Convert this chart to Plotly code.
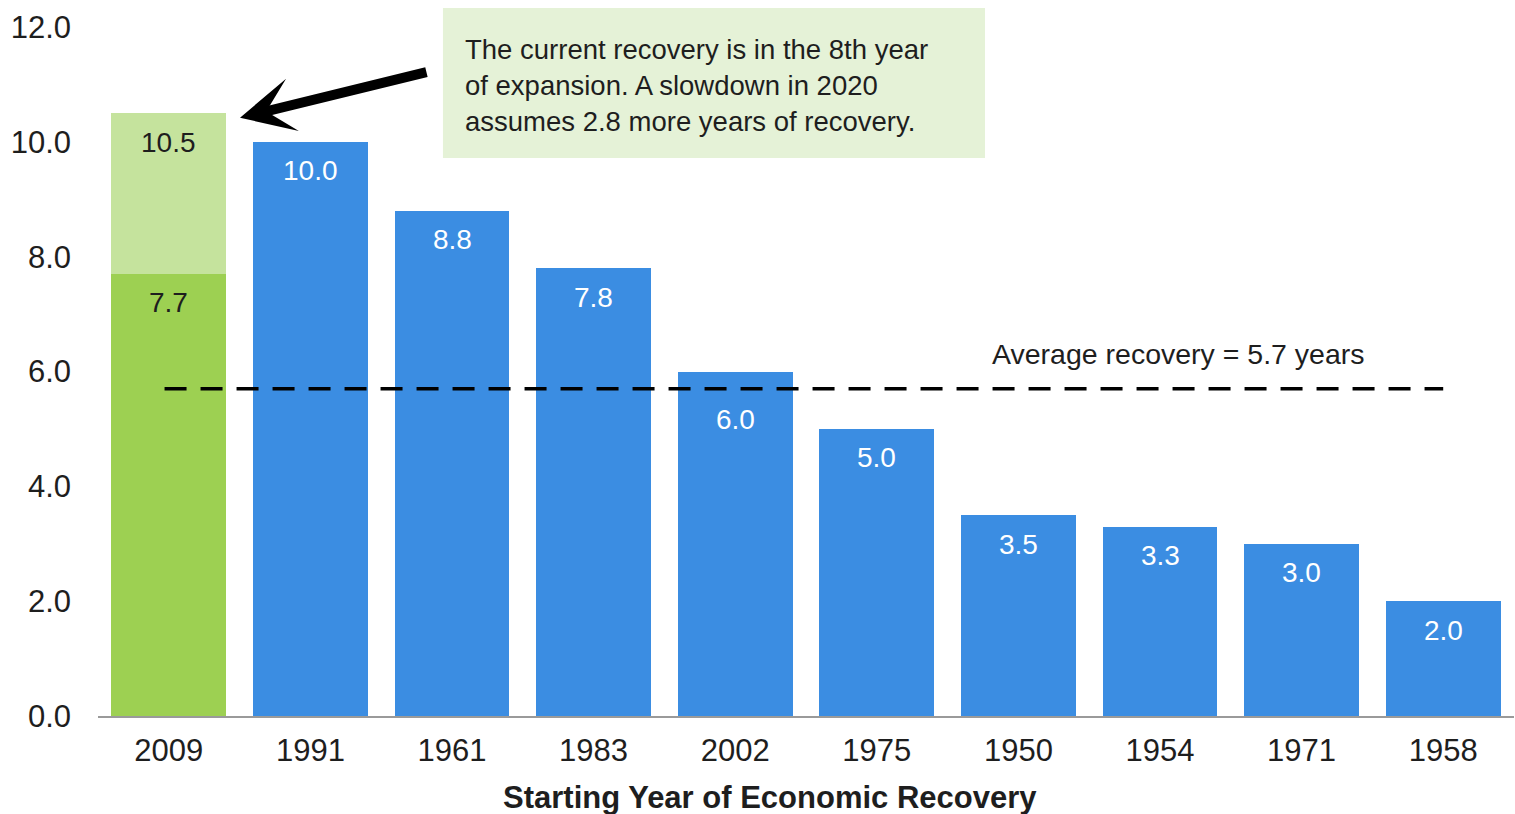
import plotly.graph_objects as go

# Recovery lengths (years) by starting year of the expansion
years = ["2009", "1991", "1961", "1983", "2002", "1975", "1950", "1954", "1971", "1958"]
recovery = [7.7, 10.0, 8.8, 7.8, 6.0, 5.0, 3.5, 3.3, 3.0, 2.0]
# Extra years assumed for the current (2009) expansion if a slowdown hits in 2020
assumed_extra = [2.8, 0, 0, 0, 0, 0, 0, 0, 0, 0]
average_recovery = 5.7
y_ticks = [0, 2, 4, 6, 8, 10, 12]

FONT = "Liberation Sans"
DARK_GREEN = "#9DD052"
LIGHT_GREEN = "#C5E39D"
BLUE = "#3B8DE2"
TEXT = "#1e1e1e"

base_colors = [DARK_GREEN if y == "2009" else BLUE for y in years]

fig = go.Figure()
fig.add_trace(go.Bar(x=years, y=recovery, marker=dict(color=base_colors, line=dict(width=0)),
                     hoverinfo="x+y"))
fig.add_trace(go.Bar(x=years, y=assumed_extra, marker=dict(color=LIGHT_GREEN, line=dict(width=0)),
                     hoverinfo="x+y"))

annotations = []
# value labels just under each bar top (category index used as x position);
# a label that would sit on the average line is pushed below it
for i, (yr, v, extra) in enumerate(zip(years, recovery, assumed_extra)):
    current = yr == "2009"
    shift = -48 if abs(v - average_recovery) < 0.5 else -29
    annotations.append(dict(x=i, y=v, xref="x", yref="y", text=f"{v:.1f}", showarrow=False,
                            yanchor="middle", yshift=shift,
                            font=dict(family=FONT, size=28, color=TEXT if current else "white")))
    if extra > 0:
        total = v + extra
        annotations.append(dict(x=i, y=total, xref="x", yref="y", text=f"{total:.1f}",
                                showarrow=False, yanchor="middle", yshift=-29,
                                font=dict(family=FONT, size=28, color=TEXT)))

# average line label
annotations.append(dict(x=0.63, xref="paper", y=average_recovery, yref="y", yshift=35,
                        text="Average recovery = 5.7 years", showarrow=False,
                        xanchor="left", yanchor="middle",
                        font=dict(family=FONT, size=28.5, color=TEXT)))

# callout text
annotations.append(dict(x=0.2578, xref="paper", y=0.9144, yref="paper",
                        text="The current recovery is in the 8th year<br>"
                             "of expansion. A slowdown in 2020<br>"
                             "assumes 2.8 more years of recovery.",
                        showarrow=False, xanchor="left", yanchor="middle", align="left",
                        font=dict(family=FONT, size=27.5, color=TEXT)))

# arrow pointing at the 2009 bar
annotations.append(dict(x=0.503, y=10.42, xref="x", yref="y",
                        ax=1.83, ay=11.22, axref="x", ayref="y",
                        text="", showarrow=True, arrowhead=3, arrowwidth=10,
                        arrowsize=0.9, arrowcolor="black"))

# x-axis title
annotations.append(dict(x=0.4746, xref="paper", y=-0.118, yref="paper",
                        text="<b>Starting Year of Economic Recovery</b>", showarrow=False,
                        xanchor="center", yanchor="middle",
                        font=dict(family=FONT, size=31, color=TEXT)))

shapes = [
    # callout background
    dict(type="rect", xref="paper", yref="paper", x0=0.2436, x1=0.6264, y0=0.8099, y1=1.0276,
         fillcolor="#E5F2D7", line=dict(width=0), layer="below"),
    # average recovery reference line
    dict(type="line", xref="x", yref="y", x0=-0.03, x1=9.0,
         y0=average_recovery, y1=average_recovery,
         line=dict(color="black", width=3.5, dash="22px,14px")),
]

fig.update_layout(
    barmode="stack",
    bargap=0.19,
    width=1515,
    height=814,
    margin=dict(l=98, r=1, t=27, b=98),
    paper_bgcolor="white",
    plot_bgcolor="white",
    showlegend=False,
    annotations=annotations,
    shapes=shapes,
    font=dict(family=FONT, color=TEXT),
)
fig.update_xaxes(type="category", range=[-0.5, 9.5], showgrid=False, showline=True,
                 linecolor="#9a9a9a", linewidth=2, ticks="", ticklabelstandoff=6,
                 tickfont=dict(family=FONT, size=31, color=TEXT))
fig.update_yaxes(range=[0, 12], tickvals=y_ticks, tickformat=".1f", showgrid=False,
                 zeroline=False, showline=False, ticks="", ticklabelstandoff=26,
                 tickfont=dict(family=FONT, size=31, color=TEXT))

fig.write_html("out.html")
